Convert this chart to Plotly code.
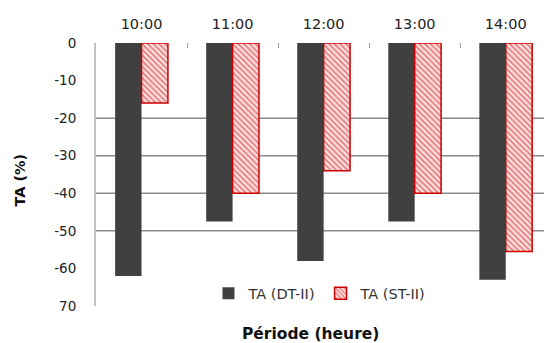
import plotly.graph_objects as go

categories = ["10:00", "11:00", "12:00", "13:00", "14:00"]
ta_dt = [-62, -47.5, -58, -47.5, -63]
ta_st = [-16, -40, -34, -40, -55.5]
series_names = ["TA (DT-II)", "TA (ST-II)"]
y_ticks = [0, -10, -20, -30, -40, -50, -60, -70]
y_ticklabels = ["0", "-10", "-20", "-30", "-40", "-50", "-60", "70"]
grid_values = [-20, -30, -40, -50]

fig = go.Figure()
fig.add_trace(go.Bar(
    x=categories, y=ta_dt, name=series_names[0],
    marker=dict(color="#404040", line=dict(color="#404040", width=0)),
))
fig.add_trace(go.Bar(
    x=categories, y=ta_st, name=series_names[1],
    marker=dict(color="#f3c4c4", line=dict(color="#cc0000", width=1.5),
                pattern=dict(shape="\\", fgcolor="#d01010", bgcolor="#fbe3e3",
                             size=4, solidity=0.45)),
))

for g in grid_values:
    fig.add_shape(type="line", xref="paper", yref="y", x0=0, x1=1, y0=g, y1=g,
                  line=dict(color="#8a8a8a", width=1.5), layer="below")

font_family = "DejaVu Sans, Verdana, sans-serif"
fig.update_layout(
    width=544, height=343,
    margin=dict(l=96, r=0, t=43, b=37),
    paper_bgcolor="white", plot_bgcolor="white",
    barmode="group", bargap=0.42, bargroupgap=0,
    font=dict(family=font_family, size=13, color="#222222"),
    showlegend=True,
    legend=dict(orientation="h", x=0.50, xanchor="center", y=0.048, yanchor="middle",
                bgcolor="rgba(0,0,0,0)", font=dict(size=14.5, color="#333333"),
                itemwidth=30, tracegroupgap=0),
    xaxis=dict(side="top", type="category", range=[-0.5, 4.42],
               showline=False, showgrid=False, zeroline=False,
               ticks="inside", ticklen=5, tickcolor="#9a9a9a", tickwidth=1,
               tickson="boundaries", ticklabelstandoff=10,
               tickfont=dict(size=14.5, color="#222222")),
    yaxis=dict(range=[-70, 0], tickvals=y_ticks, ticktext=y_ticklabels,
               showgrid=False, zeroline=False, showline=True,
               linecolor="#c0c0c0", linewidth=2, ticks="", ticklabelstandoff=15,
               tickfont=dict(size=13.5, color="#222222")),
    annotations=[
        dict(text="<b>Période (heure)</b>", xref="paper", yref="paper",
             x=0.478, y=-0.105, xanchor="center", yanchor="middle", showarrow=False,
             font=dict(size=15.5, color="#111111")),
        dict(text="<b>TA (%)</b>", xref="paper", yref="paper",
             x=-0.17, y=0.48, xanchor="center", yanchor="middle", showarrow=False,
             textangle=-90, font=dict(size=14.5, color="#111111")),
    ],
)

fig.write_html("out.html")
